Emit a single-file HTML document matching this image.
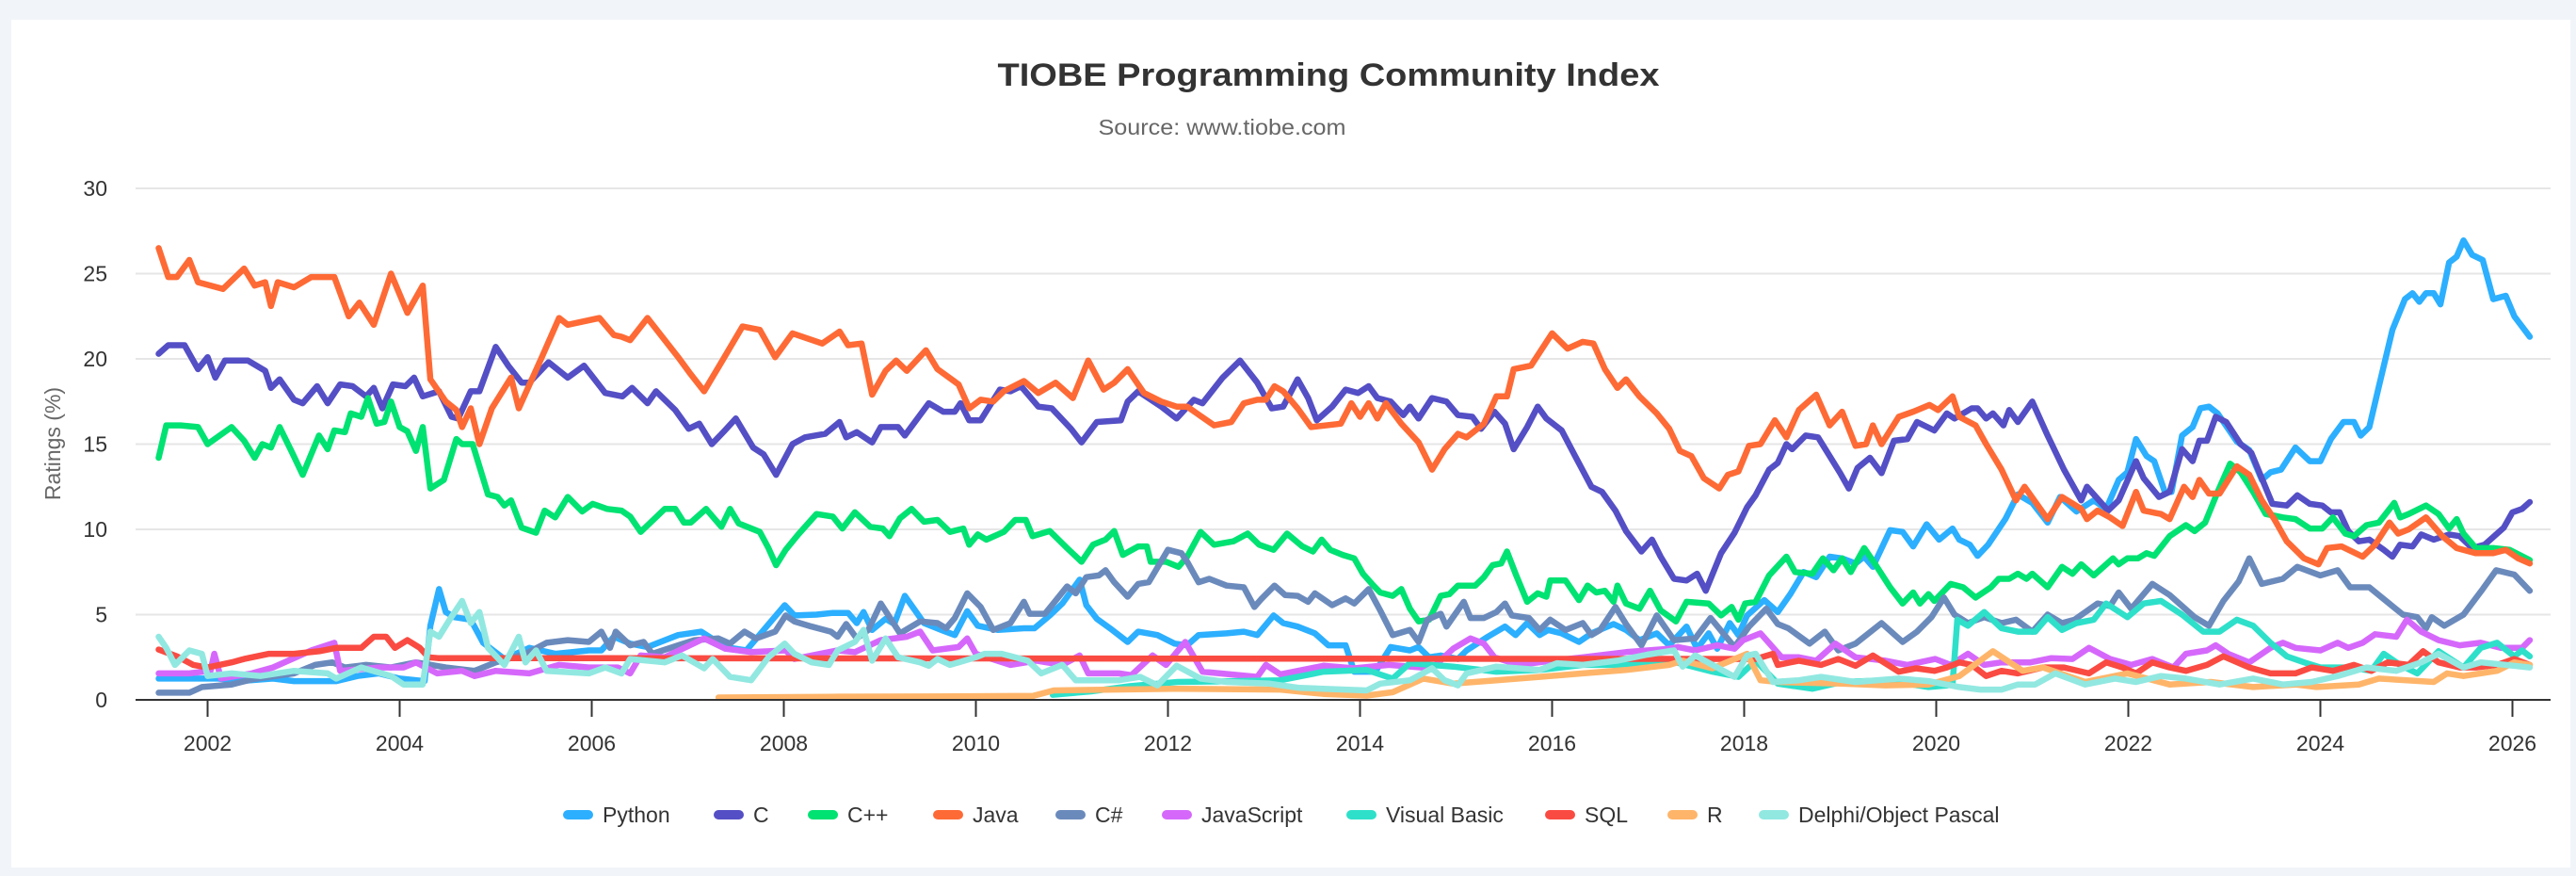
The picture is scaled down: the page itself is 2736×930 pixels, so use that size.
<!DOCTYPE html>
<html><head><meta charset="utf-8"><title>TIOBE Programming Community Index</title>
<style>
html,body{margin:0;padding:0;background:#f1f5f9;}
body{width:2736px;height:930px;overflow:hidden;position:relative;font-family:"Liberation Sans",Arial,sans-serif;}
#card{position:absolute;left:12px;top:21px;width:2718px;height:900px;background:#fff;}
svg{position:absolute;left:0;top:0;}
</style></head>
<body>
<div id="card"></div>
<svg id="chart" width="2736" height="930">
<text x="1411" y="91" text-anchor="middle" font-size="34" font-weight="bold" fill="#333" textLength="703" lengthAdjust="spacingAndGlyphs">TIOBE Programming Community Index</text>
<text x="1298" y="143" text-anchor="middle" font-size="23" fill="#666" textLength="263" lengthAdjust="spacingAndGlyphs">Source: www.tiobe.com</text>
<text transform="translate(64,471) rotate(-90)" text-anchor="middle" font-size="23" fill="#666">Ratings (%)</text>
<g id="grid"></g><g id="series"></g><g id="axes"></g><g id="legend"></g>
</svg>
<script>
const yTicks = [0,5,10,15,20,25,30];
const xTicks = [2002,2004,2006,2008,2010,2012,2014,2016,2018,2020,2022,2024,2026];
const seriesNames = ["Python","C","C++","Java","C#","JavaScript","Visual Basic","SQL","R","Delphi/Object Pascal"];

const pythonData = [[2001.49,1.25],[2001.81,1.25],[2002.11,1.25],[2002.33,1.1],[2002.68,1.25],[2002.9,1.1],[2003.34,1.1],[2003.56,1.4],[2003.78,1.55],[2004.0,1.25],[2004.26,1.1],[2004.32,4.35],[2004.41,6.5],[2004.48,5.15],[2004.57,4.85],[2004.74,4.7],[2004.87,3.35],[2005.09,2.4],[2005.35,3.05],[2005.62,2.7],[2005.97,2.9],[2006.1,2.9],[2006.23,3.7],[2006.4,3.3],[2006.58,3.1],[2006.9,3.8],[2007.14,4.0],[2007.39,3.1],[2007.61,2.9],[2007.79,4.1],[2008.01,5.55],[2008.11,4.95],[2008.34,5.0],[2008.51,5.1],[2008.67,5.1],[2008.76,4.5],[2008.83,5.15],[2008.92,4.1],[2009.06,4.75],[2009.15,4.45],[2009.26,6.1],[2009.46,4.5],[2009.64,4.1],[2009.78,3.8],[2009.91,5.2],[2010.02,4.35],[2010.23,4.1],[2010.5,4.2],[2010.61,4.2],[2010.77,4.95],[2010.9,5.65],[2011.08,7.05],[2011.15,5.55],[2011.26,4.75],[2011.42,4.1],[2011.58,3.4],[2011.69,4.0],[2011.89,3.8],[2012.07,3.3],[2012.2,3.2],[2012.32,3.8],[2012.61,3.9],[2012.79,4.0],[2012.93,3.8],[2013.1,4.95],[2013.2,4.5],[2013.35,4.3],[2013.53,3.9],[2013.67,3.2],[2013.85,3.2],[2013.94,1.65],[2014.16,1.65],[2014.32,3.1],[2014.52,2.9],[2014.61,3.1],[2014.72,2.5],[2014.84,2.6],[2015.02,2.4],[2015.11,2.9],[2015.33,3.7],[2015.51,4.3],[2015.62,3.8],[2015.74,4.5],[2015.87,3.8],[2015.96,4.1],[2016.1,3.9],[2016.28,3.4],[2016.41,3.9],[2016.64,4.45],[2016.77,4.1],[2016.91,3.5],[2017.09,3.9],[2017.22,3.2],[2017.4,4.3],[2017.51,3.0],[2017.63,3.9],[2017.72,3.0],[2017.85,4.5],[2017.94,3.8],[2018.03,4.95],[2018.21,5.85],[2018.35,5.15],[2018.48,6.2],[2018.62,7.5],[2018.75,7.2],[2018.89,8.4],[2019.02,8.3],[2019.16,8.0],[2019.25,8.4],[2019.34,7.8],[2019.52,9.95],[2019.65,9.85],[2019.76,9.0],[2019.9,10.3],[2020.03,9.4],[2020.17,10.05],[2020.24,9.4],[2020.35,9.1],[2020.43,8.45],[2020.54,9.1],[2020.72,10.6],[2020.85,12.05],[2021.0,11.55],[2021.16,10.4],[2021.29,11.9],[2021.46,11.05],[2021.64,11.7],[2021.77,11.2],[2021.9,12.9],[2021.99,13.35],[2022.08,15.3],[2022.19,14.3],[2022.27,14.0],[2022.38,12.2],[2022.45,12.2],[2022.56,15.5],[2022.67,16.0],[2022.75,17.1],[2022.84,17.2],[2022.93,16.8],[2023.13,15.15],[2023.26,14.65],[2023.39,12.9],[2023.48,13.35],[2023.59,13.5],[2023.74,14.8],[2023.89,14.0],[2024.0,14.0],[2024.11,15.3],[2024.24,16.3],[2024.35,16.3],[2024.42,15.5],[2024.51,16.0],[2024.61,18.4],[2024.75,21.7],[2024.88,23.5],[2024.96,23.85],[2025.03,23.35],[2025.1,23.85],[2025.18,23.85],[2025.25,23.2],[2025.34,25.65],[2025.42,26.0],[2025.49,26.95],[2025.58,26.1],[2025.69,25.8],[2025.8,23.5],[2025.93,23.7],[2026.02,22.5],[2026.18,21.3]];
const cData = [[2001.49,20.3],[2001.59,20.8],[2001.76,20.8],[2001.9,19.4],[2002.0,20.1],[2002.08,18.9],[2002.18,19.9],[2002.42,19.9],[2002.6,19.3],[2002.66,18.3],[2002.75,18.8],[2002.9,17.6],[2002.99,17.4],[2003.14,18.4],[2003.25,17.4],[2003.38,18.5],[2003.51,18.4],[2003.65,17.8],[2003.73,18.3],[2003.82,17.1],[2003.93,18.5],[2004.06,18.4],[2004.15,18.9],[2004.24,17.8],[2004.41,18.1],[2004.54,16.6],[2004.61,16.5],[2004.74,18.1],[2004.83,18.1],[2005.0,20.7],[2005.13,19.6],[2005.27,18.6],[2005.35,18.6],[2005.55,19.8],[2005.75,18.9],[2005.92,19.6],[2006.14,18.0],[2006.32,17.8],[2006.42,18.3],[2006.58,17.4],[2006.67,18.1],[2006.87,17.0],[2007.01,15.9],[2007.12,16.2],[2007.25,15.0],[2007.37,15.7],[2007.5,16.5],[2007.68,14.8],[2007.79,14.4],[2007.92,13.2],[2008.09,15.0],[2008.22,15.4],[2008.43,15.6],[2008.58,16.3],[2008.65,15.4],[2008.76,15.7],[2008.92,15.1],[2009.01,16.0],[2009.19,16.0],[2009.26,15.5],[2009.51,17.4],[2009.66,16.9],[2009.78,16.9],[2009.84,17.4],[2009.93,16.4],[2010.05,16.4],[2010.25,18.2],[2010.36,18.1],[2010.47,18.4],[2010.65,17.2],[2010.79,17.1],[2010.99,15.9],[2011.1,15.1],[2011.26,16.3],[2011.51,16.4],[2011.58,17.5],[2011.69,18.1],[2011.93,17.2],[2012.09,16.5],[2012.27,17.6],[2012.36,17.4],[2012.57,18.9],[2012.75,19.9],[2012.93,18.6],[2013.08,17.1],[2013.2,17.2],[2013.35,18.8],[2013.46,17.7],[2013.55,16.4],[2013.71,17.2],[2013.85,18.2],[2013.98,18.0],[2014.09,18.4],[2014.18,17.7],[2014.32,17.5],[2014.45,16.7],[2014.52,17.2],[2014.61,16.5],[2014.75,17.7],[2014.9,17.5],[2015.02,16.7],[2015.17,16.6],[2015.26,15.9],[2015.4,16.9],[2015.51,16.2],[2015.6,14.7],[2015.74,16.0],[2015.85,17.2],[2015.94,16.5],[2016.1,15.8],[2016.23,14.4],[2016.41,12.5],[2016.52,12.2],[2016.66,11.1],[2016.77,9.9],[2016.93,8.7],[2017.04,9.4],[2017.13,8.4],[2017.27,7.1],[2017.4,7.0],[2017.51,7.4],[2017.6,6.4],[2017.76,8.6],[2017.9,9.8],[2018.03,11.3],[2018.12,12.0],[2018.26,13.5],[2018.35,13.9],[2018.44,15.0],[2018.5,14.7],[2018.64,15.5],[2018.77,15.4],[2018.89,14.3],[2019.0,13.3],[2019.09,12.4],[2019.18,13.6],[2019.31,14.2],[2019.43,13.3],[2019.56,15.2],[2019.7,15.3],[2019.8,16.3],[2019.98,15.8],[2020.11,16.8],[2020.19,16.5],[2020.37,17.1],[2020.43,17.1],[2020.52,16.5],[2020.59,16.8],[2020.7,16.1],[2020.76,17.0],[2020.85,16.3],[2021.0,17.5],[2021.16,15.5],[2021.33,13.5],[2021.51,11.7],[2021.57,12.5],[2021.79,11.1],[2021.9,11.7],[2022.08,14.0],[2022.16,13.0],[2022.32,11.9],[2022.43,12.2],[2022.56,14.7],[2022.67,14.0],[2022.74,15.2],[2022.82,15.2],[2022.91,16.6],[2023.02,16.3],[2023.17,15.0],[2023.28,14.5],[2023.39,13.0],[2023.5,11.5],[2023.65,11.4],[2023.76,12.0],[2023.89,11.5],[2024.02,11.4],[2024.11,11.0],[2024.2,11.0],[2024.29,9.9],[2024.4,9.3],[2024.51,9.4],[2024.66,8.8],[2024.75,8.4],[2024.83,9.1],[2024.96,9.0],[2025.05,9.7],[2025.18,9.4],[2025.34,9.7],[2025.45,9.6],[2025.58,8.9],[2025.71,9.1],[2025.91,10.1],[2026.0,11.0],[2026.1,11.2],[2026.18,11.6]];
const cppData = [[2001.49,14.2],[2001.57,16.1],[2001.72,16.1],[2001.9,16.0],[2002.0,15.0],[2002.25,16.0],[2002.38,15.2],[2002.49,14.2],[2002.57,15.0],[2002.66,14.8],[2002.75,16.0],[2002.88,14.5],[2002.99,13.2],[2003.16,15.5],[2003.25,14.7],[2003.32,15.8],[2003.43,15.7],[2003.49,16.8],[2003.6,16.6],[2003.67,17.7],[2003.76,16.2],[2003.84,16.3],[2003.91,17.5],[2004.0,16.0],[2004.08,15.75],[2004.17,14.6],[2004.24,16.0],[2004.32,12.4],[2004.46,12.9],[2004.59,15.3],[2004.65,15.0],[2004.76,15.0],[2004.92,12.05],[2005.02,11.9],[2005.09,11.4],[2005.16,11.7],[2005.27,10.1],[2005.42,9.8],[2005.51,11.1],[2005.62,10.7],[2005.75,11.9],[2005.9,11.05],[2006.01,11.5],[2006.16,11.2],[2006.31,11.1],[2006.4,10.75],[2006.51,9.85],[2006.76,11.2],[2006.87,11.2],[2006.96,10.4],[2007.03,10.4],[2007.19,11.2],[2007.35,10.15],[2007.44,11.2],[2007.53,10.35],[2007.75,9.85],[2007.84,8.9],[2007.92,7.9],[2008.02,8.8],[2008.15,9.7],[2008.34,10.9],[2008.51,10.75],[2008.61,10.05],[2008.74,11.0],[2008.9,10.15],[2009.03,10.05],[2009.1,9.6],[2009.21,10.65],[2009.33,11.2],[2009.46,10.45],[2009.6,10.55],[2009.73,9.85],[2009.87,10.05],[2009.93,9.1],[2010.02,9.7],[2010.11,9.4],[2010.29,9.85],[2010.41,10.55],[2010.52,10.55],[2010.59,9.6],[2010.77,9.9],[2010.95,8.9],[2011.1,8.1],[2011.22,9.1],[2011.35,9.4],[2011.44,9.9],[2011.53,8.5],[2011.69,9.0],[2011.78,9.0],[2011.82,8.1],[2011.98,8.1],[2012.11,7.8],[2012.2,8.4],[2012.34,9.85],[2012.48,9.1],[2012.68,9.3],[2012.83,9.75],[2012.95,9.1],[2013.1,8.8],[2013.24,9.75],[2013.4,9.0],[2013.51,8.7],[2013.6,9.4],[2013.69,8.8],[2013.82,8.5],[2013.94,8.3],[2014.03,7.4],[2014.14,6.7],[2014.21,6.3],[2014.34,6.1],[2014.43,6.5],[2014.52,5.35],[2014.61,4.6],[2014.72,4.7],[2014.84,6.1],[2014.93,6.2],[2015.02,6.7],[2015.2,6.7],[2015.29,7.2],[2015.38,7.9],[2015.47,8.0],[2015.53,8.7],[2015.62,7.4],[2015.74,5.75],[2015.85,6.25],[2015.94,6.05],[2015.98,7.0],[2016.14,7.0],[2016.28,5.85],[2016.37,6.7],[2016.46,6.3],[2016.55,6.4],[2016.64,5.75],[2016.68,6.7],[2016.77,5.65],[2016.91,5.35],[2017.02,6.4],[2017.13,5.25],[2017.29,4.6],[2017.4,5.75],[2017.63,5.65],[2017.76,4.95],[2017.87,5.45],[2017.94,4.7],[2018.01,5.65],[2018.12,5.75],[2018.26,7.3],[2018.44,8.4],[2018.53,7.5],[2018.71,7.4],[2018.82,8.3],[2018.93,7.6],[2019.02,8.3],[2019.11,7.5],[2019.25,8.9],[2019.36,8.0],[2019.52,6.6],[2019.65,5.65],[2019.76,6.3],[2019.83,5.65],[2019.92,6.2],[2019.98,5.8],[2020.15,6.8],[2020.28,6.6],[2020.41,6.0],[2020.57,6.6],[2020.65,7.1],[2020.76,7.1],[2020.85,7.4],[2020.94,7.1],[2021.0,7.4],[2021.16,6.6],[2021.31,7.8],[2021.42,7.4],[2021.51,7.95],[2021.64,7.3],[2021.84,8.3],[2021.9,7.95],[2021.99,8.3],[2022.1,8.3],[2022.19,8.6],[2022.27,8.45],[2022.43,9.6],[2022.6,10.25],[2022.69,9.9],[2022.8,10.4],[2022.93,12.2],[2023.06,13.85],[2023.17,13.35],[2023.3,12.2],[2023.43,10.9],[2023.61,10.7],[2023.74,10.6],[2023.89,10.05],[2024.02,10.05],[2024.13,10.7],[2024.26,9.75],[2024.35,9.6],[2024.48,10.25],[2024.61,10.4],[2024.77,11.55],[2024.83,10.7],[2024.92,10.9],[2025.1,11.4],[2025.23,10.9],[2025.34,10.05],[2025.42,10.6],[2025.49,9.75],[2025.62,8.9],[2025.8,8.9],[2025.97,8.8],[2026.18,8.2]];
const javaData = [[2001.49,26.5],[2001.59,24.8],[2001.68,24.8],[2001.81,25.8],[2001.9,24.5],[2002.16,24.1],[2002.38,25.3],[2002.49,24.3],[2002.6,24.5],[2002.66,23.1],[2002.73,24.5],[2002.9,24.2],[2003.08,24.8],[2003.32,24.8],[2003.47,22.5],[2003.58,23.3],[2003.73,22.0],[2003.91,25.0],[2004.08,22.7],[2004.24,24.3],[2004.32,18.8],[2004.48,17.5],[2004.59,17.0],[2004.65,16.0],[2004.74,17.1],[2004.83,15.0],[2004.96,17.1],[2005.16,18.9],[2005.24,17.1],[2005.48,20.1],[2005.66,22.4],[2005.75,22.0],[2006.08,22.4],[2006.23,21.4],[2006.31,21.3],[2006.4,21.1],[2006.58,22.4],[2006.72,21.4],[2006.9,20.1],[2007.03,19.1],[2007.17,18.1],[2007.35,19.8],[2007.57,21.9],[2007.75,21.7],[2007.91,20.1],[2008.09,21.5],[2008.4,20.9],[2008.58,21.6],[2008.67,20.8],[2008.81,20.9],[2008.92,17.9],[2009.06,19.3],[2009.17,19.9],[2009.28,19.3],[2009.48,20.5],[2009.6,19.4],[2009.82,18.5],[2009.93,17.1],[2010.05,17.6],[2010.18,17.5],[2010.29,18.1],[2010.5,18.7],[2010.65,18.0],[2010.83,18.6],[2011.01,17.7],[2011.17,19.9],[2011.33,18.2],[2011.44,18.6],[2011.58,19.4],[2011.75,18.0],[2011.93,17.5],[2012.09,17.2],[2012.2,17.2],[2012.48,16.1],[2012.66,16.3],[2012.79,17.4],[2012.93,17.6],[2013.02,17.6],[2013.11,18.4],[2013.2,18.1],[2013.35,17.1],[2013.49,16.0],[2013.8,16.2],[2013.91,17.4],[2014.0,16.6],[2014.09,17.4],[2014.18,16.5],[2014.27,17.4],[2014.43,16.2],[2014.61,15.1],[2014.75,13.5],[2014.88,14.7],[2015.02,15.6],[2015.11,15.4],[2015.29,16.2],[2015.42,17.8],[2015.53,17.8],[2015.6,19.4],[2015.78,19.6],[2016.0,21.5],[2016.16,20.6],[2016.32,21.0],[2016.43,20.9],[2016.55,19.4],[2016.68,18.3],[2016.77,18.8],[2016.91,17.8],[2017.09,16.8],[2017.22,15.9],[2017.33,14.6],[2017.45,14.3],[2017.58,13.0],[2017.74,12.4],[2017.83,13.2],[2017.94,13.4],[2018.05,14.9],[2018.17,15.0],[2018.32,16.4],[2018.44,15.4],[2018.57,17.0],[2018.75,17.9],[2018.89,16.1],[2019.02,16.9],[2019.16,14.9],[2019.27,15.0],[2019.34,16.1],[2019.43,15.0],[2019.61,16.6],[2019.76,16.9],[2019.93,17.3],[2020.02,17.0],[2020.17,17.8],[2020.24,16.6],[2020.41,16.1],[2020.52,15.0],[2020.68,13.5],[2020.83,11.7],[2020.92,12.5],[2021.16,10.6],[2021.31,11.9],[2021.51,11.2],[2021.57,10.6],[2021.68,11.1],[2021.81,10.7],[2021.94,10.2],[2022.08,12.2],[2022.16,11.1],[2022.34,10.9],[2022.43,10.6],[2022.58,12.5],[2022.67,11.9],[2022.74,12.9],[2022.84,12.1],[2022.95,12.1],[2023.13,13.7],[2023.26,13.2],[2023.39,11.7],[2023.52,10.6],[2023.65,9.3],[2023.83,8.3],[2023.98,7.95],[2024.07,8.9],[2024.22,9.0],[2024.44,8.4],[2024.57,9.1],[2024.72,10.4],[2024.81,9.75],[2024.92,10.0],[2025.1,10.7],[2025.27,9.6],[2025.42,8.9],[2025.62,8.6],[2025.8,8.6],[2025.93,8.8],[2026.06,8.3],[2026.18,8.0]];
const csharpData = [[2001.49,0.42],[2001.81,0.42],[2001.94,0.75],[2002.25,0.9],[2002.46,1.2],[2002.9,1.55],[2003.12,2.05],[2003.3,2.2],[2003.43,1.9],[2003.65,2.05],[2003.91,1.9],[2004.17,2.2],[2004.48,1.9],[2004.78,1.7],[2005.0,2.2],[2005.31,2.7],[2005.53,3.35],[2005.75,3.5],[2005.97,3.4],[2006.1,4.0],[2006.19,3.05],[2006.25,4.0],[2006.4,3.2],[2006.54,3.4],[2006.63,2.7],[2006.9,3.2],[2007.07,3.5],[2007.32,3.6],[2007.44,3.3],[2007.59,4.0],[2007.71,3.6],[2007.91,4.0],[2008.02,4.95],[2008.11,4.6],[2008.29,4.3],[2008.49,4.0],[2008.56,3.7],[2008.65,4.45],[2008.76,3.6],[2008.88,4.1],[2009.01,5.65],[2009.21,3.9],[2009.42,4.6],[2009.6,4.5],[2009.69,4.2],[2009.78,4.8],[2009.91,6.25],[2010.05,5.45],[2010.18,4.1],[2010.36,4.5],[2010.5,5.75],[2010.56,5.05],[2010.72,5.05],[2010.95,6.65],[2011.04,6.25],[2011.15,7.2],[2011.28,7.3],[2011.35,7.6],[2011.44,6.9],[2011.58,6.05],[2011.69,6.8],[2011.8,6.9],[2012.0,8.8],[2012.14,8.6],[2012.2,8.1],[2012.32,6.9],[2012.43,7.1],[2012.61,6.7],[2012.79,6.6],[2012.9,5.45],[2012.97,5.9],[2013.11,6.7],[2013.22,6.15],[2013.35,6.1],[2013.46,5.75],[2013.53,6.25],[2013.71,5.55],[2013.85,5.95],[2013.94,5.65],[2014.09,6.5],[2014.21,5.25],[2014.34,3.8],[2014.52,4.1],[2014.61,3.4],[2014.7,4.7],[2014.84,5.05],[2014.9,4.3],[2015.08,5.75],[2015.15,4.8],[2015.29,4.8],[2015.42,5.15],[2015.51,5.65],[2015.58,4.95],[2015.76,4.8],[2015.87,4.1],[2015.98,4.7],[2016.14,4.1],[2016.32,4.5],[2016.41,3.8],[2016.5,4.1],[2016.66,5.45],[2016.77,4.45],[2016.93,3.2],[2017.09,4.95],[2017.27,3.5],[2017.49,3.6],[2017.65,4.8],[2017.9,3.1],[2018.05,4.3],[2018.23,5.35],[2018.35,4.45],[2018.46,4.2],[2018.68,3.3],[2018.84,4.0],[2018.98,2.9],[2019.16,3.3],[2019.43,4.5],[2019.65,3.4],[2019.8,4.0],[2019.95,4.85],[2020.08,6.0],[2020.19,5.0],[2020.33,4.5],[2020.5,4.85],[2020.68,4.5],[2020.83,4.7],[2021.0,4.0],[2021.16,5.0],[2021.31,4.5],[2021.44,4.7],[2021.68,5.65],[2021.81,5.5],[2021.9,6.3],[2022.03,5.35],[2022.25,6.8],[2022.43,6.15],[2022.69,4.85],[2022.84,4.35],[2022.99,5.8],[2023.15,6.95],[2023.26,8.3],[2023.39,6.8],[2023.61,7.1],[2023.76,7.8],[2024.0,7.3],[2024.18,7.6],[2024.31,6.6],[2024.51,6.6],[2024.75,5.5],[2024.86,5.0],[2025.01,4.85],[2025.1,4.2],[2025.16,4.85],[2025.29,4.35],[2025.49,5.0],[2025.69,6.5],[2025.83,7.6],[2026.02,7.35],[2026.18,6.4]];
const jsData = [[2001.49,1.55],[2001.81,1.55],[2002.03,1.7],[2002.07,2.7],[2002.14,1.25],[2002.46,1.55],[2002.68,1.9],[2003.08,2.9],[2003.32,3.35],[2003.38,1.7],[2003.78,1.9],[2004.04,1.9],[2004.17,2.2],[2004.39,1.55],[2004.65,1.7],[2004.78,1.4],[2005.0,1.7],[2005.35,1.55],[2005.66,2.05],[2005.97,1.9],[2006.27,1.9],[2006.4,1.55],[2006.51,2.6],[2006.76,2.5],[2007.17,3.6],[2007.39,3.0],[2007.66,2.8],[2008.02,2.9],[2008.11,2.4],[2008.56,2.9],[2008.74,2.8],[2009.01,3.5],[2009.28,3.7],[2009.42,4.0],[2009.55,2.9],[2009.82,3.1],[2009.91,3.6],[2010.0,2.7],[2010.36,2.05],[2010.63,2.3],[2010.9,2.05],[2011.08,2.6],[2011.17,1.55],[2011.49,1.55],[2011.62,1.45],[2011.84,2.6],[2011.98,2.05],[2012.18,3.4],[2012.36,1.65],[2012.93,1.35],[2013.02,2.05],[2013.17,1.5],[2013.62,2.0],[2013.94,1.85],[2014.3,2.05],[2014.75,1.85],[2014.97,3.0],[2015.15,3.6],[2015.29,3.3],[2015.4,2.5],[2015.65,2.05],[2016.0,2.3],[2016.32,2.5],[2016.77,2.8],[2017.22,3.0],[2017.31,3.1],[2017.49,2.9],[2017.72,3.2],[2017.9,3.0],[2017.99,3.5],[2018.17,3.9],[2018.39,2.5],[2018.57,2.5],[2018.75,2.3],[2018.95,3.3],[2019.16,2.5],[2019.47,2.3],[2019.7,2.05],[2019.99,2.4],[2020.15,2.05],[2020.33,2.7],[2020.5,2.05],[2020.68,2.2],[2020.98,2.2],[2021.2,2.45],[2021.42,2.4],[2021.59,3.05],[2021.81,2.4],[2022.03,2.05],[2022.25,2.4],[2022.47,1.9],[2022.6,2.7],[2022.82,2.9],[2022.91,3.2],[2023.04,2.7],[2023.26,2.2],[2023.48,3.05],[2023.61,3.35],[2023.74,3.05],[2024.0,2.9],[2024.18,3.35],[2024.29,3.05],[2024.44,3.35],[2024.57,3.85],[2024.79,3.7],[2024.9,4.7],[2025.05,4.0],[2025.23,3.5],[2025.45,3.2],[2025.67,3.35],[2025.88,3.05],[2026.1,3.05],[2026.18,3.5]];
const vbData = [[2010.8,0.3],[2011.2,0.5],[2011.6,0.8],[2012.1,1.05],[2012.7,1.1],[2013.17,1.15],[2013.62,1.65],[2014.07,1.75],[2014.34,1.25],[2014.52,2.15],[2014.97,1.95],[2015.42,1.65],[2015.87,1.75],[2016.32,2.05],[2016.77,2.05],[2017.22,2.3],[2017.67,1.65],[2017.94,1.35],[2018.12,2.3],[2018.35,0.95],[2018.71,0.65],[2019.02,1.05],[2019.47,1.15],[2019.92,0.75],[2020.12,0.85],[2020.17,0.9],[2020.22,4.7],[2020.33,4.35],[2020.5,5.15],[2020.68,4.2],[2020.85,4.0],[2021.03,4.0],[2021.16,4.85],[2021.31,4.1],[2021.46,4.5],[2021.64,4.7],[2021.77,5.65],[2021.99,4.85],[2022.16,5.65],[2022.34,5.8],[2022.56,5.0],[2022.78,4.0],[2022.95,4.0],[2023.13,4.7],[2023.3,4.35],[2023.48,3.35],[2023.65,2.55],[2023.83,2.2],[2024.0,1.9],[2024.31,1.9],[2024.53,1.7],[2024.66,2.7],[2024.83,2.05],[2025.01,1.55],[2025.23,2.85],[2025.49,1.9],[2025.67,3.05],[2025.84,3.35],[2026.02,2.55],[2026.1,2.9],[2026.18,2.55]];
const sqlData = [[2001.49,2.95],[2001.68,2.55],[2001.85,2.05],[2002.0,1.9],[2002.25,2.2],[2002.38,2.4],[2002.64,2.7],[2002.9,2.7],[2003.16,2.85],[2003.34,3.05],[2003.6,3.05],[2003.73,3.7],[2003.86,3.7],[2003.95,3.05],[2004.08,3.5],[2004.21,3.05],[2004.3,2.5],[2004.4,2.45],[2018.12,2.4],[2018.3,2.7],[2018.35,2.05],[2018.57,2.3],[2018.8,2.05],[2018.98,2.4],[2019.16,2.0],[2019.34,2.6],[2019.61,1.65],[2019.79,1.85],[2019.98,1.7],[2020.11,1.9],[2020.24,2.2],[2020.37,2.05],[2020.52,1.4],[2020.68,1.7],[2020.85,1.55],[2021.11,1.9],[2021.33,1.9],[2021.59,1.55],[2021.77,2.2],[2021.94,1.9],[2022.08,1.55],[2022.25,2.2],[2022.43,1.9],[2022.6,1.7],[2022.82,2.05],[2022.99,2.55],[2023.26,1.9],[2023.48,1.55],[2023.74,1.55],[2023.91,1.9],[2024.13,1.7],[2024.35,2.05],[2024.53,1.7],[2024.7,2.2],[2024.92,2.05],[2025.07,2.85],[2025.23,2.2],[2025.45,1.9],[2025.62,1.9],[2025.84,2.05],[2026.02,2.4],[2026.18,2.05]];
const rData = [[2007.32,0.14],[2008.5,0.18],[2009.5,0.2],[2010.6,0.24],[2010.81,0.55],[2012.07,0.65],[2013.17,0.6],[2013.62,0.35],[2014.07,0.25],[2014.34,0.45],[2014.66,1.25],[2014.97,0.95],[2015.42,1.15],[2015.87,1.35],[2016.32,1.55],[2016.77,1.75],[2017.22,2.05],[2017.36,2.3],[2017.67,1.85],[2018.03,2.7],[2018.17,1.15],[2018.35,1.05],[2019.02,0.95],[2019.47,0.85],[2019.92,0.9],[2020.24,1.4],[2020.59,2.85],[2020.9,1.7],[2021.11,1.9],[2021.55,1.05],[2021.99,1.55],[2022.43,0.9],[2022.86,1.05],[2023.3,0.75],[2023.74,0.9],[2023.96,0.75],[2024.4,0.9],[2024.61,1.25],[2025.18,1.05],[2025.32,1.55],[2025.49,1.4],[2025.84,1.7],[2026.02,2.2],[2026.18,2.05]];
const delphiData = [[2001.49,3.7],[2001.57,3.05],[2001.66,2.05],[2001.81,2.9],[2001.94,2.7],[2002.0,1.4],[2002.25,1.55],[2002.55,1.4],[2002.9,1.7],[2003.25,1.55],[2003.34,1.25],[2003.6,1.9],[2003.91,1.4],[2004.04,0.9],[2004.24,0.9],[2004.32,4.0],[2004.41,3.7],[2004.52,4.7],[2004.65,5.8],[2004.74,4.5],[2004.83,5.15],[2004.92,3.05],[2005.09,2.05],[2005.24,3.7],[2005.31,2.2],[2005.42,2.9],[2005.53,1.7],[2005.97,1.55],[2006.14,1.9],[2006.31,1.55],[2006.4,2.4],[2006.76,2.2],[2006.94,2.6],[2007.17,1.85],[2007.26,2.4],[2007.44,1.35],[2007.66,1.15],[2007.84,2.5],[2008.01,3.3],[2008.11,2.7],[2008.29,2.2],[2008.47,2.05],[2008.56,2.9],[2008.74,3.4],[2008.83,4.1],[2008.92,2.3],[2009.06,3.6],[2009.19,2.5],[2009.42,2.2],[2009.51,2.0],[2009.6,2.4],[2009.73,2.05],[2010.0,2.5],[2010.09,2.7],[2010.27,2.7],[2010.54,2.3],[2010.68,1.55],[2010.9,2.05],[2011.04,1.15],[2011.26,1.15],[2011.49,1.15],[2011.71,1.35],[2011.89,0.85],[2012.09,2.0],[2012.34,1.25],[2012.61,1.05],[2013.06,0.95],[2013.37,0.7],[2013.62,0.65],[2014.07,0.55],[2014.21,0.95],[2014.52,1.15],[2014.75,1.85],[2014.88,1.15],[2015.02,0.85],[2015.11,1.55],[2015.42,1.95],[2015.87,1.75],[2016.05,2.15],[2016.32,2.05],[2016.68,2.3],[2016.99,2.65],[2017.27,2.9],[2017.36,1.95],[2017.49,2.6],[2017.67,2.05],[2017.9,1.35],[2018.03,2.6],[2018.12,2.7],[2018.3,1.05],[2018.57,1.15],[2018.8,1.35],[2019.16,1.05],[2019.61,1.25],[2019.92,1.1],[2020.24,0.75],[2020.46,0.6],[2020.68,0.6],[2020.85,0.9],[2021.03,0.9],[2021.24,1.55],[2021.55,0.9],[2021.86,1.25],[2022.08,1.05],[2022.34,1.4],[2022.6,1.25],[2022.95,0.9],[2023.3,1.25],[2023.61,0.9],[2023.91,1.05],[2024.18,1.4],[2024.48,1.9],[2024.79,1.7],[2025.05,2.2],[2025.23,2.7],[2025.49,1.9],[2025.67,2.2],[2025.93,2.05],[2026.18,1.9]];

const allSeries = [pythonData,cData,cppData,javaData,csharpData,jsData,vbData,sqlData,rData,delphiData];
const colors = ["#2caffe","#544fc5","#00e272","#fe6a35","#6b8abc","#d568fb","#2ee0ca","#fa4b42","#feb56a","#91e8e1"];
const legendX = [598,758,858,991,1121,1234,1430,1641,1771,1868];

const NS = "http://www.w3.org/2000/svg";
const plotL = 144, plotR = 2709, plotT = 200, plotB = 743;
const xScale = yr => 220.5 + (yr - 2002) * 102;
const yScale = v => plotB - (v / 30) * (plotB - plotT);
function mk(tag, attrs, parent){const e=document.createElementNS(NS,tag);for(const k in attrs)e.setAttribute(k,attrs[k]);parent.appendChild(e);return e;}

const grid = document.getElementById('grid');
const axes = document.getElementById('axes');
yTicks.forEach(t=>{
  if(t>0){
    const g = mk('line',{x1:plotL,x2:plotR,y1:yScale(t),y2:yScale(t),stroke:'#e6e6e6','stroke-width':2},grid);
    
    
  }
  const lab = mk('text',{x:114,y:yScale(t)+8,'text-anchor':'end','font-size':23,fill:'#333'},axes);
  lab.textContent = t;
  
  
});
const axisLine = mk('line',{x1:plotL,x2:plotR,y1:plotB,y2:plotB,stroke:'#333','stroke-width':2},axes);


xTicks.forEach(t=>{
  const x = xScale(t);
  const tk = mk('line',{x1:x,x2:x,y1:plotB,y2:plotB+18,stroke:'#333','stroke-width':2},axes);
  
  
  const lab = mk('text',{x:x,y:797,'text-anchor':'middle','font-size':23,fill:'#333'},axes);
  lab.textContent = t;
  
  
});

const sg = document.getElementById('series');
allSeries.forEach((data,i)=>{
  const pts = data.map(p=>xScale(p[0]).toFixed(1)+','+yScale(p[1]).toFixed(1)).join(' ');
  const pl = mk('polyline',{points:pts,fill:'none',stroke:colors[i],'stroke-width':6.5,'stroke-linejoin':'round','stroke-linecap':'round'},sg);
  
  
});

const lg = document.getElementById('legend');
seriesNames.forEach((n,i)=>{
  const g = mk('g',{},lg);
  
  
  mk('rect',{x:legendX[i],y:860,width:32,height:10,rx:5,fill:colors[i]},g);
  const t = mk('text',{x:legendX[i]+42,y:873,'font-size':23,fill:'#333'},g);
  t.textContent = n;
});
</script>
</body></html>
